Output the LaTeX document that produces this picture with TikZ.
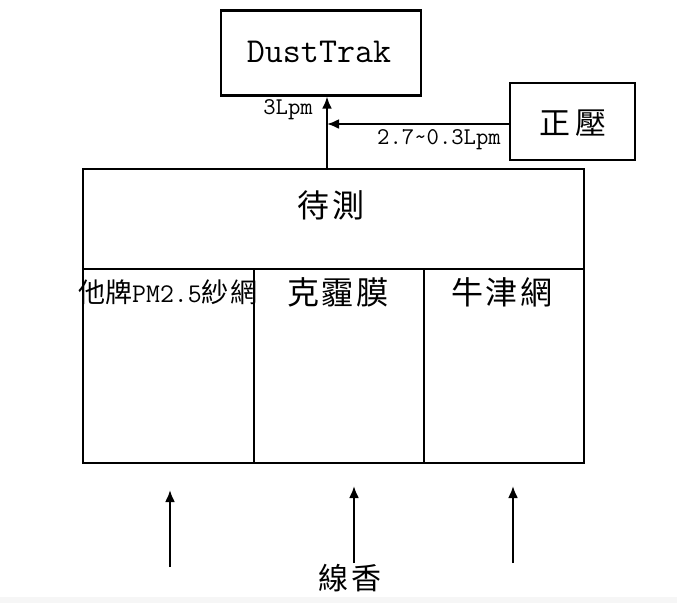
\documentclass[tikz,border=0pt]{standalone}
\usepackage{fontspec}
\newfontfamily\cjk{Noto Sans CJK TC}
\usetikzlibrary{arrows.meta}
\newcommand{\fs}[1]{\fontsize{#1}{#1}\selectfont}
\begin{document}
\begin{tikzpicture}[x=1pt,y=-1pt,
  box/.style={draw,line width=2.2pt,inner sep=0pt,anchor=center},
  arr/.style={line width=2.2pt,-{Latex[length=12pt,width=10pt]}},
  cjklabel/.style={inner sep=0pt,font=\cjk\fs{32}},
  lat/.style={inner sep=0pt,font=\ttfamily\fs{24}}]
\useasboundingbox (0,0) rectangle (677,603);
\fill[gray!7] (0,597) rectangle (677,603);
% boxes
\node[box,minimum width=200pt,minimum height=85pt] (dust) at (321,53) {};
\node[inner sep=0pt,font=\ttfamily\fs{35}] (dusttext) at (319,52) {DustTrak};
\node[box,minimum width=125pt,minimum height=77pt] (zheng) at (572.5,121.5) {};
\node[cjklabel,font=\cjk\fs{31}] (zhengtext) at (573,123) {正\hspace{6pt}壓};
\node[box,minimum width=501pt,minimum height=100pt] (top) at (333.5,219) {};
\node[cjklabel] (toptext) at (331,205) {待\hspace{3pt}測};
\node[box,minimum width=171pt,minimum height=194pt] (c1) at (168.5,366) {};
\node[box,minimum width=170pt,minimum height=194pt] (c2) at (339,366) {};
\node[box,minimum width=160pt,minimum height=194pt] (c3) at (504,366) {};
\node[inner sep=0pt,anchor=west] (l1) at (78,292) {\cjk\fs{27}他牌\ttfamily PM2.5\cjk 紗\hspace{2pt}網};
\node[cjklabel] (l2) at (338,292) {克\hspace{3pt}霾\hspace{3pt}膜};
\node[cjklabel] (l3) at (502,292) {牛\hspace{3pt}津\hspace{3pt}網};
% flow labels
\node[lat] (q1) at (288,110) {3Lpm};
\node[lat] (q2) at (439,140) {2.7\textasciitilde0.3Lpm};
% connectors
\coordinate (j) at (327,169);
\draw[arr] (j) -- (j |- dust.south);
\coordinate (zw) at (510,124);
\draw[arr] (zw) -- (zw -| j);
\coordinate (s1) at (170,567); \coordinate (e1) at (170,490);
\coordinate (s2) at (354,563); \coordinate (e2) at (354,486);
\coordinate (s3) at (513,563); \coordinate (e3) at (513,486);
\draw[arr] (s1) -- (e1);
\draw[arr] (s2) -- (e2);
\draw[arr] (s3) -- (e3);
\node[cjklabel,font=\cjk\fs{30}] (src) at (350,578) {線\hspace{3pt}香};
\end{tikzpicture}
\end{document}
